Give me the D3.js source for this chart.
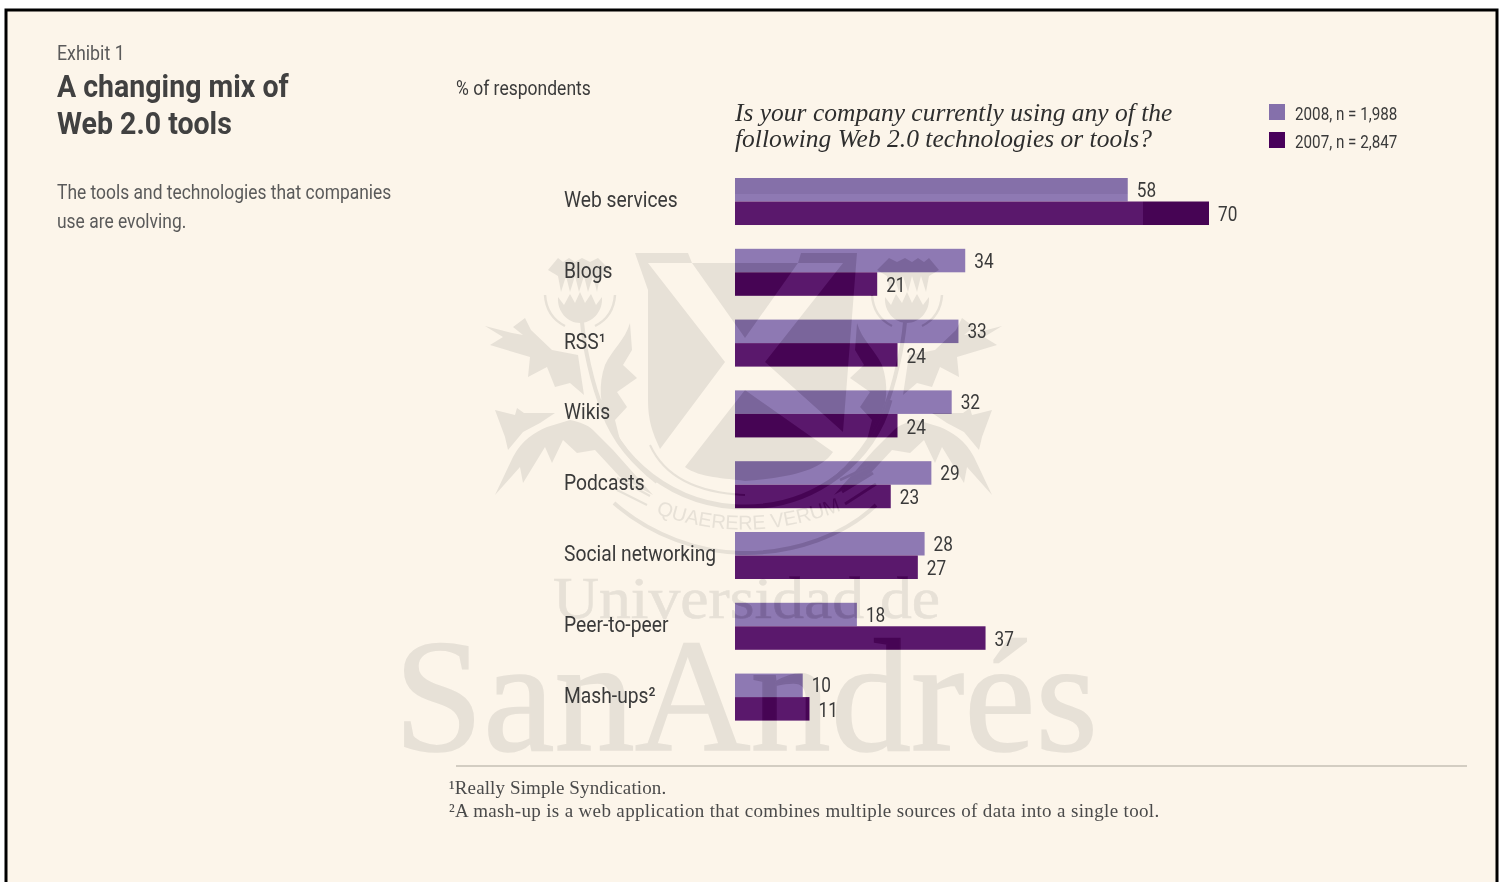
<!DOCTYPE html>
<html>
<head>
<meta charset="utf-8">
<script src="https://cdn.jsdelivr.net/npm/d3@7"></script>
<style>
  html, body { margin: 0; padding: 0; background: #fff; overflow: hidden; }
  svg { display: block; }
  .narrow { font-family: "Roboto", "Liberation Sans", sans-serif; }
  .serif { font-family: "Liberation Serif", serif; }
</style>
</head>
<body>
<svg id="chart" width="1503" height="882"></svg>
<script>
// Survey results: share of respondents using each Web 2.0 tool
const categories = ["Web services", "Blogs", "RSS¹", "Wikis", "Podcasts", "Social networking", "Peer-to-peer", "Mash-ups²"];
const values2008 = [58, 34, 33, 32, 29, 28, 18, 10];
const values2007 = [70, 21, 24, 24, 23, 27, 37, 11];
const seriesKeys = ["2008", "2007"];
const seriesColors = ["#8e79b3", "#5a186c"];
const legendColors = ["#8570ab", "#48005a"];
const legendLabels = ["2008, n = 1,988", "2007, n = 2,847"];
const titleLines = ["A changing mix of", "Web 2.0 tools"];
const introLines = ["The tools and technologies that companies", "use are evolving."];
const questionLines = ["Is your company currently using any of the", "following Web 2.0 technologies or tools?"];
const footnotes = ["¹Really Simple Syndication.", "²A mash-up is a web application that combines multiple sources of data into a single tool."];

const svg = d3.select("#chart");
const paper = "#fcf5ea";
const crestTint = "#e7e1d7";
const shadeTint = "#141418";

// Squeezes a text run horizontally so the regular face reads as a condensed one
function condense(selection, factor) {
  selection.each(function () {
    const t = d3.select(this);
    t.attr("textLength", this.getComputedTextLength() * factor).attr("lengthAdjust", "spacingAndGlyphs");
  });
}

// Page frame
svg.append("rect").attr("x", 6).attr("y", 10).attr("width", 1491).attr("height", 890)
  .attr("fill", paper).attr("stroke", "#000").attr("stroke-width", 3);

// University crest and name, painted behind the bars and repeated as a shade on top of them
function drawLeaves(g, color) {
  const shapes = [
    "M548,270 L558,258 563,262 569,258 575,262 582,258 590,262 598,258 610,270 L600,276 L597,292 L593,276 L588,292 L584,276 L579,292 L575,276 L570,292 L566,276 L561,292 L558,276 Z",
    "M558,297 L564,305 L570,294 L575,303 L580,292 L585,303 L591,294 L596,305 L602,297 C603,312 592,323 580,323 C568,323 557,312 558,297 Z",
    "M630,323 L632,350 L623,365 L637,378 L617,392 L627,407 L615,420 L620,440 L608,425 C600,405 598,385 605,365 C612,350 625,340 630,323 Z",
    "M485,326 L512,333 L523,335 L513,327 L525,318 L531,330 L552,350 L578,355 L584,395 L570,383 L555,387 L547,367 L528,377 L530,357 L490,345 L503,337 Z",
    "M495,410 L515,415 L517,408 L524,413 L555,413 L540,423 L523,432 L508,450 L505,437 Z",
    "M495,495 L513,457 C522,440 535,432 547,427 L570,420 C580,422 588,425 593,430 L613,450 L637,477 L653,495 L620,477 L595,450 L577,453 L563,440 L552,463 L545,447 L523,483 L520,467 Z"
  ];
  g.selectAll("path.leaf").data(shapes).join("path").attr("class", "leaf").attr("d", d => d).attr("fill", color);
  const stems = [
    ["M582,322 C584,345 592,385 603,410 C615,440 635,465 657,482", 4],
    ["M545,295 C546,310 553,320 565,326", 2.5],
    ["M615,295 C614,310 607,320 595,326", 2.5]
  ];
  g.selectAll("path.stem").data(stems).join("path").attr("class", "stem")
    .attr("d", d => d[0]).attr("fill", "none").attr("stroke", color).attr("stroke-width", d => d[1]);
}

function drawCrest(parent, color) {
  const g = parent.append("g");
  const left = g.append("g");
  drawLeaves(left, color);
  const right = g.append("g").attr("transform", "translate(1487,0) scale(-1,1)");
  drawLeaves(right, color);

  const shield = [
    "M635,253 L688,253 L692,263 L798,263 L745,338 L692,263 L648,263 L725,362 L660,449 C652,432 648,420 648,400 L648,290 Z",
    "M857,253 L801,253 L798,263 L843,263 L765,362 L843,432 Z",
    "M745,390 L833,452 C820,472 785,478 745,481 C725,478 700,478 685,467 Z"
  ];
  g.selectAll("path.shield").data(shield).join("path").attr("class", "shield").attr("d", d => d).attr("fill", color);

  const rings = [
    ["M614,503 C650,535 700,553 745,553 C795,553 845,535 876,505", 4],
    ["M600,400 C615,460 675,507 745,507 C815,507 875,460 890,400", 5],
    ["M650,445 C665,478 700,493 745,495", 2],
    ["M617,478 L650,496", 2],
    ["M617,490 L647,505", 2],
    ["M840,480 L868,467", 3],
    ["M842,492 L873,473", 3],
    ["M845,504 L876,484", 3]
  ];
  g.selectAll("path.ring").data(rings).join("path").attr("class", "ring")
    .attr("d", d => d[0]).attr("fill", "none").attr("stroke", color).attr("stroke-width", d => d[1]);

  g.append("text").attr("font-family", "Liberation Sans, sans-serif").attr("font-size", 20).attr("fill", color)
    .append("textPath").attr("href", "#mottoArc").attr("startOffset", 4)
    .text("QUAERERE VERUM");

  g.append("text").attr("class", "serif").attr("x", 553).attr("y", 618)
    .attr("font-size", 60).attr("textLength", 387).attr("lengthAdjust", "spacingAndGlyphs")
    .attr("stroke", color).attr("stroke-width", 0.6)
    .attr("fill", color).text("Universidad de");
  g.append("text").attr("class", "serif").attr("x", 394).attr("y", 750)
    .attr("font-size", 160).attr("textLength", 704).attr("lengthAdjust", "spacingAndGlyphs")
    .attr("stroke", color).attr("stroke-width", 1.5)
    .attr("fill", color).text("SanAndrés");
}

const defs = svg.append("defs");
defs.append("path").attr("id", "mottoArc").attr("d", "M652,512 Q745,548 842,510");

drawCrest(svg, crestTint);

// Scales
const x = d3.scaleLinear().domain([0, 70]).range([735, 1209]);
const y = d3.scaleBand().domain(categories).range([178, 720.6]).paddingInner(0.336).paddingOuter(0);
const inner = d3.scaleBand().domain(seriesKeys).range([0, y.bandwidth()]);

const rows = categories.map((c, i) => ({ c, "2008": values2008[i], "2007": values2007[i] }));
const marks = rows.flatMap(r => seriesKeys.map((k, si) => ({ c: r.c, k, si, v: r[k] })));

// Bars
svg.append("g").selectAll("rect").data(marks).join("rect")
  .attr("x", x(0))
  .attr("y", d => y(d.c) + inner(d.k))
  .attr("width", d => x(d.v) - x(0))
  .attr("height", inner.bandwidth())
  .attr("fill", d => seriesColors[d.si]);

// Crest shows through the bars as a darker tone
const clip = defs.append("clipPath").attr("id", "barClip");
clip.selectAll("rect").data(marks).join("rect")
  .attr("x", x(0))
  .attr("y", d => y(d.c) + inner(d.k))
  .attr("width", d => x(d.v) - x(0))
  .attr("height", inner.bandwidth());

const shade = svg.append("g").attr("clip-path", "url(#barClip)").style("mix-blend-mode", "difference");
drawCrest(shade, shadeTint);
shade.append("rect").attr("x", 1143).attr("y", 201).attr("width", 70).attr("height", 25).attr("fill", shadeTint);
svg.append("g").attr("clip-path", "url(#barClip)").style("mix-blend-mode", "difference")
  .append("rect").attr("x", 735).attr("y", 176).attr("width", 395).attr("height", 18).attr("fill", "#09090a");

// Value labels
svg.append("g").selectAll("text").data(marks).join("text")
  .attr("class", "narrow")
  .attr("x", d => x(d.v) + 9)
  .attr("y", d => y(d.c) + inner(d.k) + inner.bandwidth() / 2 + 7 + d.si)
  .attr("font-size", 20).attr("fill", "#3a3a3a")
  .text(d => d.v)
  .call(condense, 0.86);

// Category labels through a left axis
const axis = svg.append("g").attr("transform", `translate(${x(0)},0)`)
  .call(d3.axisLeft(y).tickSize(0));
axis.select(".domain").remove();
axis.attr("font-family", null).attr("font-size", null);
axis.selectAll("text")
  .attr("class", "narrow")
  .attr("x", 564 - x(0))
  .attr("y", 1)
  .attr("dy", "0.2em")
  .attr("text-anchor", "start")
  .attr("font-size", 22)
  .attr("fill", "#3a3a3a")
  .call(condense, 0.875);

// Heading block
svg.append("text").attr("class", "narrow").attr("x", 57).attr("y", 60)
  .attr("font-size", 20).attr("fill", "#5a5a5a").text("Exhibit 1").call(condense, 0.89);
svg.append("g").selectAll("text").data(titleLines).join("text")
  .attr("class", "narrow").attr("x", 57).attr("y", (d, i) => 97 + i * 37)
  .attr("font-size", 31).attr("font-weight", 700).attr("fill", "#414141").text(d => d)
  .call(condense, 0.92);
svg.append("g").selectAll("text").data(introLines).join("text")
  .attr("class", "narrow").attr("x", 57).attr("y", (d, i) => 199 + i * 29)
  .attr("font-size", 21).attr("fill", "#5a5a5a").text(d => d)
  .call(condense, 0.83);

svg.append("text").attr("class", "narrow").attr("x", 456).attr("y", 95)
  .attr("font-size", 20).attr("fill", "#3a3a3a").text("% of respondents").call(condense, 0.876);

// Survey question
svg.append("g").selectAll("text").data(questionLines).join("text")
  .attr("class", "serif").attr("x", 735).attr("y", (d, i) => 121 + i * 26)
  .attr("font-size", 25).attr("font-style", "italic").attr("fill", "#2e2e2e").text(d => d)
  .call(condense, 1.02);

// Legend
const legend = svg.append("g").selectAll("g").data(legendLabels).join("g")
  .attr("transform", (d, i) => `translate(1269,${104 + i * 28})`);
legend.append("rect").attr("width", 16).attr("height", 16).attr("fill", (d, i) => legendColors[i]);
legend.append("text").attr("class", "narrow").attr("x", 26).attr("y", 16)
  .attr("font-size", 19).attr("fill", "#3a3a3a").text(d => d).call(condense, 0.8);

// Footnotes
svg.append("line").attr("x1", 456).attr("x2", 1467).attr("y1", 766).attr("y2", 766)
  .attr("stroke", "#aaa599").attr("stroke-width", 1.2);
svg.append("g").selectAll("text").data(footnotes).join("text")
  .attr("class", "serif").attr("x", 449).attr("y", (d, i) => 794 + i * 23)
  .attr("font-size", 19).attr("fill", "#4a4a4a").text(d => d)
  .each(function (d, i) {
    const stretch = [1.014, 1.046][i];
    d3.select(this).attr("textLength", this.getComputedTextLength() * stretch).attr("lengthAdjust", "spacing");
  });
</script>
</body>
</html>
